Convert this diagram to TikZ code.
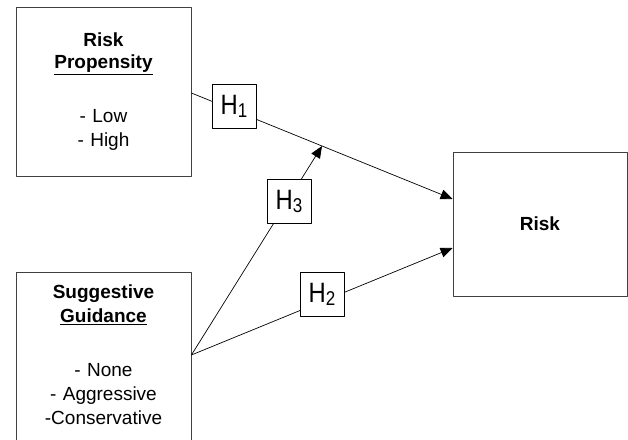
\documentclass[tikz,border=0pt]{standalone}
\usepackage{fontspec}
\setmainfont{Liberation Sans}
\usepackage{graphicx}
\usepackage{tikz}
\usetikzlibrary{arrows.meta,calc}
\usetikzlibrary{positioning}
\tikzset{varbox/.style={draw=black!75,line width=0.8pt,fill=white,text width=165pt,align=center,inner sep=0pt}}
\tikzset{hyp/.style={draw=black,line width=0.8pt,fill=white,minimum size=44pt,inner sep=0pt,font=\fontsize{28}{28}\selectfont}}
\newcommand{\hlab}[1]{\scalebox{0.85}[1]{H\raisebox{-3pt}{\fontsize{20}{20}\selectfont #1}}}

\begin{document}
\begin{tikzpicture}[x=1pt,y=1pt,>={Triangle[length=12pt,width=10pt]},line join=round,font=\fontsize{19}{24}\selectfont]
\useasboundingbox (0,0) rectangle (628,439);
\clip (0,0) rectangle (628,439);
% --- the two factors, left column
\node[varbox,minimum width=175pt,minimum height=169pt] (prop) at (103.5,347.5) {\textbf{Risk}\\[-2pt]\textbf{\underline{Propensity}}\\[30pt]- Low\\- High};
\node[varbox,anchor=north,minimum width=175pt,inner ysep=12pt] (guid) at (103.5,167) {\textbf{Suggestive}\\\textbf{\underline{Guidance}}\\[30pt]- None\\- Aggressive\\-Conservative\rule[-30pt]{0pt}{0pt}};
% --- outcome
\node[varbox,minimum width=174pt,minimum height=144pt] (risk) at (540,215) {\textbf{Risk}};
\coordinate (src) at ($(guid.north east)+(0,-83)$);
\coordinate (top) at ($(prop.east)+(0,-1.5)$);
\draw[->,line width=0.7pt] (top) -- coordinate (mid) ($(risk.west)+(0,25)$);
\draw[->,line width=0.7pt] (src) -- (mid);
\draw[->,line width=0.7pt] (src) -- ($(risk.west)+(0,-24)$);
% --- hypotheses
\node[hyp] (h1) at (234,333) {\hlab{1}};
\node[hyp] (h3) at (289,237.5) {\hlab{3}};
\node[hyp] (h2) at (322,145) {\hlab{2}};
\end{tikzpicture}
\end{document}
